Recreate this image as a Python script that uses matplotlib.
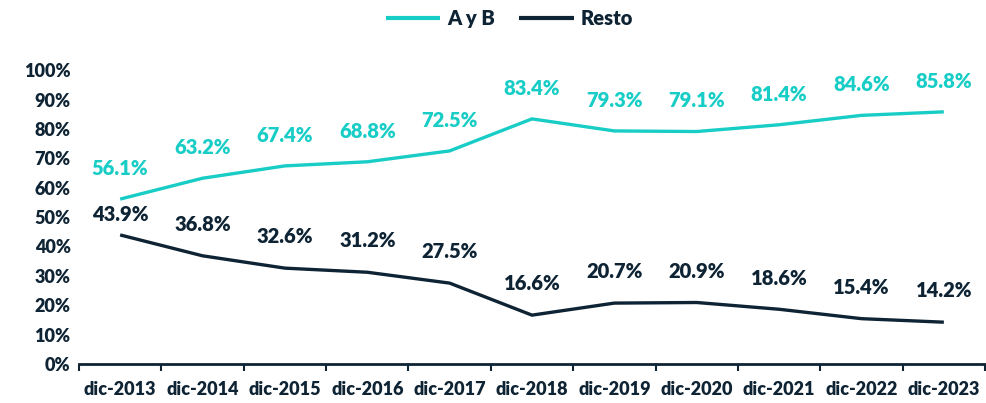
import matplotlib
matplotlib.use("Agg")
import matplotlib.pyplot as plt
from matplotlib.ticker import FuncFormatter, FixedLocator

categories = ["dic-2013", "dic-2014", "dic-2015", "dic-2016", "dic-2017", "dic-2018",
              "dic-2019", "dic-2020", "dic-2021", "dic-2022", "dic-2023"]
ayb = [56.1, 63.2, 67.4, 68.8, 72.5, 83.4, 79.3, 79.1, 81.4, 84.6, 85.8]
resto = [43.9, 36.8, 32.6, 31.2, 27.5, 16.6, 20.7, 20.9, 18.6, 15.4, 14.2]
series_names = ["A y B", "Resto"]

TEAL = "#17CDC6"
NAVY = "#0E2333"
W = 'heavy'

plt.rcParams['font.family'] = ['Lato', 'DejaVu Sans']
plt.rcParams['font.weight'] = W

fig = plt.figure(figsize=(9.87, 4.03), dpi=100)
ax = fig.add_axes([0.080, 0.097, 0.918, 0.729])

x = list(range(len(categories)))
ax.plot(x, ayb, color=TEAL, lw=2.4, label=series_names[0], solid_capstyle='butt')
ax.plot(x, resto, color=NAVY, lw=2.4, label=series_names[1], solid_capstyle='butt')

for i, v in enumerate(ayb):
    ax.annotate(f"{v:.1f}%", (i, v), xytext=(0, 22), textcoords='offset points',
                ha='center', va='center', color=TEAL, fontsize=14.5, fontweight=W)
for i, v in enumerate(resto):
    off = 14.5 if i == 0 else 22.5
    ax.annotate(f"{v:.1f}%", (i, v), xytext=(0, off), textcoords='offset points',
                ha='center', va='center', color=NAVY, fontsize=14.5, fontweight=W)

ax.set_xlim(-0.5, len(categories) - 0.5)
ax.set_ylim(0, 100)
ax.set_yticks(range(0, 101, 10))
ax.yaxis.set_major_formatter(FuncFormatter(lambda v, p: f"{int(v)}%"))
ax.set_xticks(x)
ax.set_xticklabels(categories)
ax.xaxis.set_minor_locator(FixedLocator([i - 0.5 for i in range(len(categories) + 1)]))
ax.tick_params(axis='x', which='major', length=0, pad=12, labelsize=13, labelcolor=NAVY)
ax.tick_params(axis='x', which='minor', length=5, width=1.5, color=NAVY, direction='out')
ax.tick_params(axis='y', length=0, pad=6, labelsize=13, labelcolor=NAVY)
for lab in ax.get_xticklabels() + ax.get_yticklabels():
    lab.set_fontweight(W)

for s in ['top', 'right', 'left']:
    ax.spines[s].set_visible(False)
ax.spines['bottom'].set_color(NAVY)
ax.spines['bottom'].set_linewidth(2)

leg = fig.legend(loc='center', bbox_to_anchor=(0.516, 0.955), ncol=2, frameon=False,
                 prop={'weight': W, 'size': 14.5}, handlelength=2.7, columnspacing=1.2,
                 handletextpad=0.35)
for t in leg.get_texts():
    t.set_color(NAVY)
for h in leg.get_lines():
    h.set_linewidth(3)

fig.savefig("out.png", dpi=100)
